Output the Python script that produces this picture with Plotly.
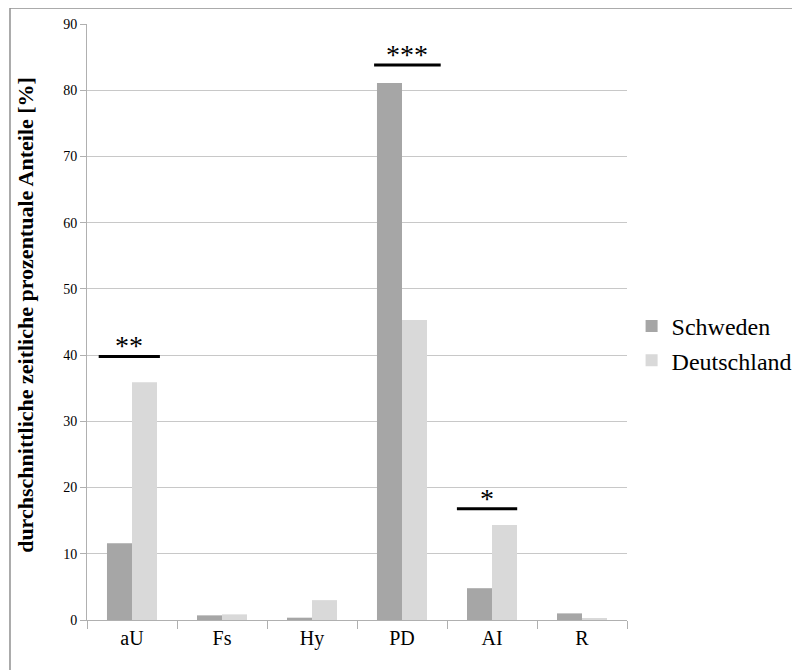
import plotly.graph_objects as go

categories = ["aU", "Fs", "Hy", "PD", "AI", "R"]
schweden = [11.6, 0.7, 0.35, 81.1, 4.8, 1.0]
deutschland = [35.9, 0.85, 3.0, 45.3, 14.35, 0.3]
y_ticks = [0, 10, 20, 30, 40, 50, 60, 70, 80, 90]
series_names = ["Schweden", "Deutschland"]

sig_labels = ["**", "***", "*"]
sig_x0 = [-0.37, 2.69, 3.61]
sig_x1 = [0.31, 3.43, 4.28]
sig_y = [39.8, 83.8, 16.8]

FONT = "Liberation Serif"

fig = go.Figure()
fig.add_trace(go.Bar(x=categories, y=schweden, name=series_names[0],
                     marker=dict(color="#a6a6a6", line=dict(width=0))))
fig.add_trace(go.Bar(x=categories, y=deutschland, name=series_names[1],
                     marker=dict(color="#d9d9d9", line=dict(width=0))))

shapes = []
annotations = []
for lab, x0, x1, y in zip(sig_labels, sig_x0, sig_x1, sig_y):
    shapes.append(dict(type="line", xref="x", yref="y", x0=x0, x1=x1, y0=y, y1=y,
                       line=dict(color="black", width=3)))
    annotations.append(dict(x=(x0 + x1) / 2, y=y, xref="x", yref="y", text=lab,
                            showarrow=False, yanchor="bottom", yshift=-7,
                            font=dict(family=FONT, size=28, color="black")))

# y-axis title as rotated annotation
annotations.append(dict(x=0, y=0.512, xref="paper", yref="paper", xshift=-61,
                        text="<b>durchschnittliche zeitliche prozentuale Anteile [%]</b>",
                        textangle=-90, showarrow=False, xanchor="center", yanchor="middle",
                        font=dict(family=FONT, size=22, color="black")))

# outer frame
shapes.append(dict(type="rect", xref="paper", yref="paper",
                   x0=-0.1426, x1=1.4, y0=-0.2, y1=1.0268,
                   line=dict(color="#909090", width=1.5), layer="below"))

fig.update_layout(
    width=792, height=662,
    margin=dict(l=79, r=173, t=16, b=50, autoexpand=False),
    paper_bgcolor="white", plot_bgcolor="white",
    barmode="group", bargap=0.444, bargroupgap=0,
    font=dict(family=FONT, color="black"),
    showlegend=True,
    legend=dict(x=1.0085, y=0.464, xanchor="left", yanchor="middle",
                font=dict(family=FONT, size=24, color="black"),
                itemwidth=30),
    shapes=shapes, annotations=annotations,
    xaxis=dict(type="category", showline=True, linecolor="#b0b0b0", linewidth=1,
               automargin=False,
               ticks="outside", tickson="boundaries", ticklen=8, tickcolor="#b0b0b0",
               tickfont=dict(family=FONT, size=20, color="black"), showgrid=False),
    yaxis=dict(range=[0, 90], tickvals=y_ticks, showline=True, linecolor="#b0b0b0",
               linewidth=1, ticks="outside", ticklen=6, tickcolor="#b0b0b0",
               automargin=False,
               gridcolor="#c8c8c8", gridwidth=1, zeroline=False,
               tickfont=dict(family=FONT, size=14, color="black")),
)

fig.write_html("out.html")
